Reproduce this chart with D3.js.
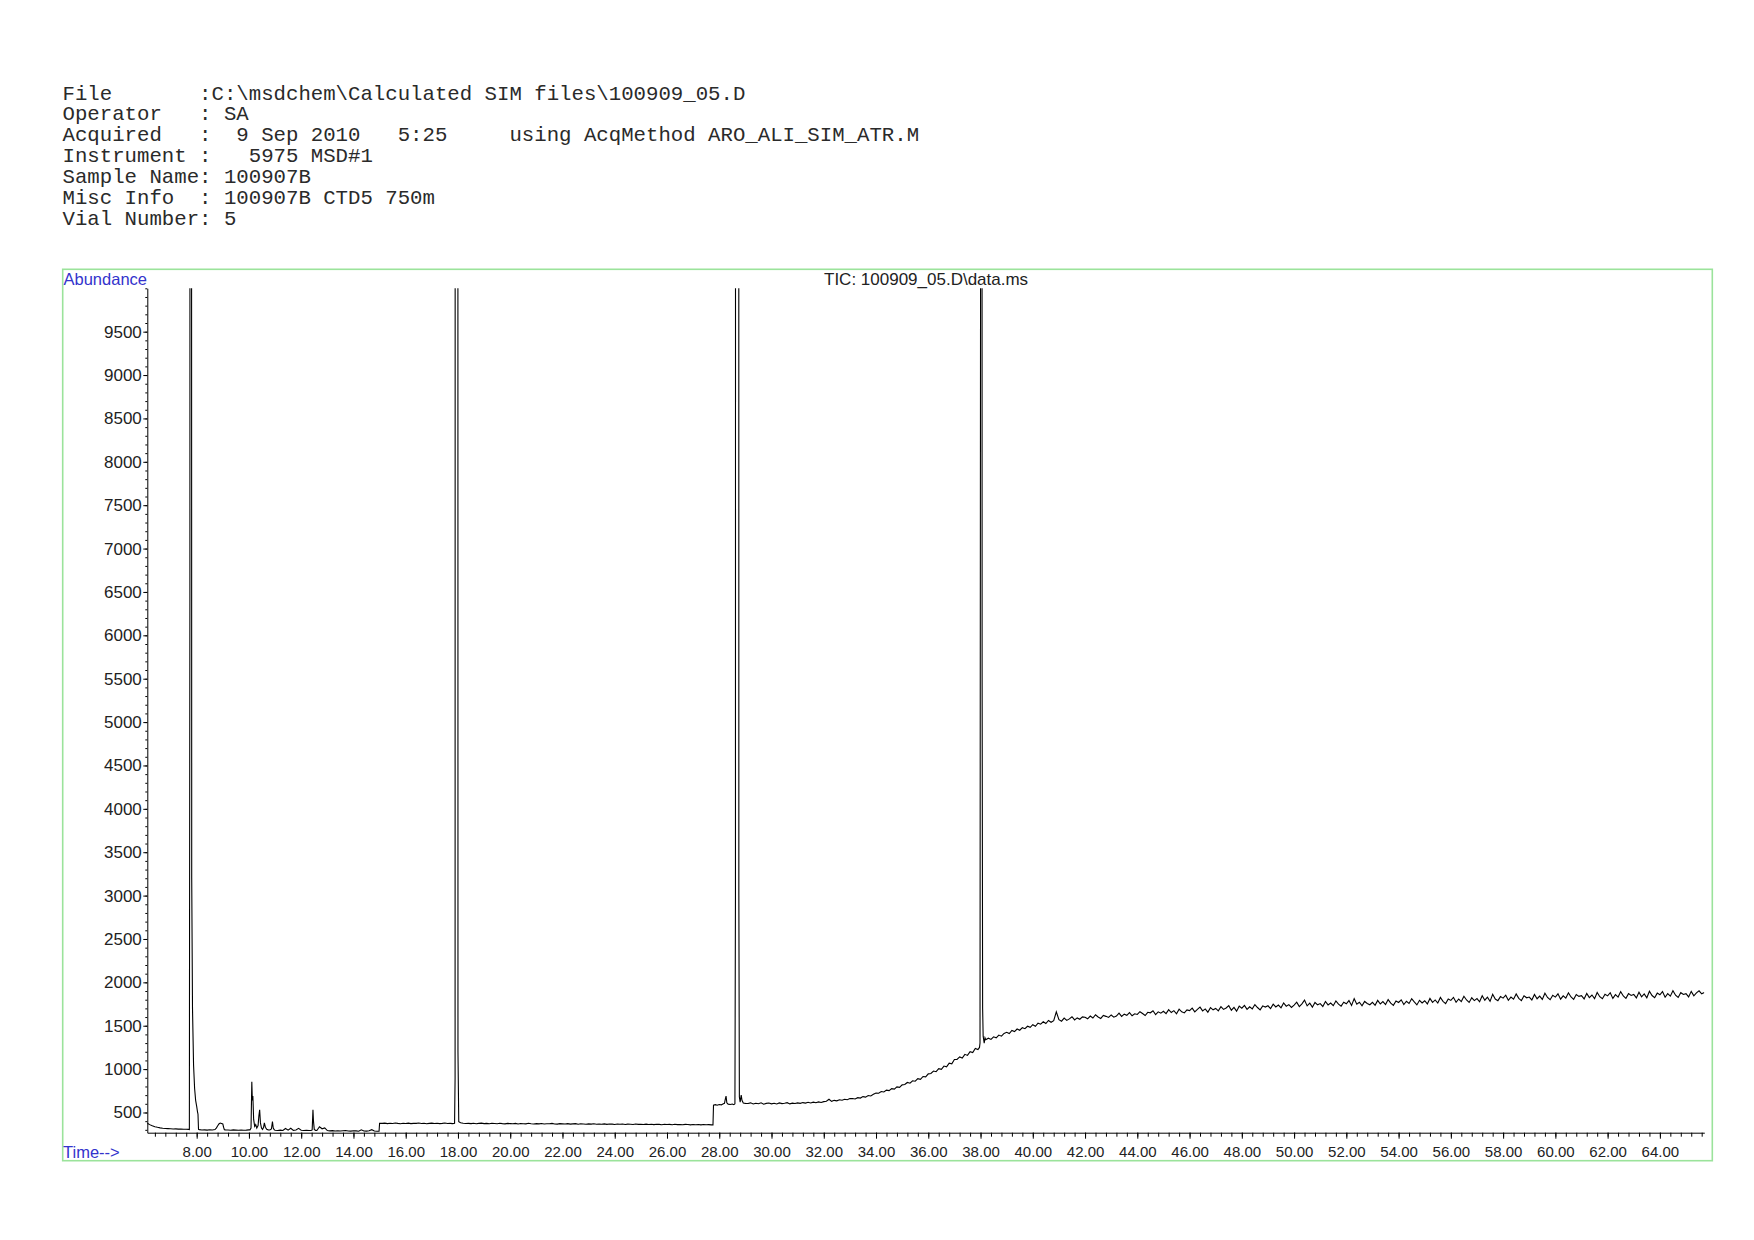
<!DOCTYPE html>
<html>
<head>
<meta charset="utf-8">
<script src="https://cdn.jsdelivr.net/npm/d3@7"></script>
<style>
  body { margin: 0; background: #fff; }
  svg { display: block; }
  .hdr { font-family: "Liberation Mono", "Courier New", monospace; font-size: 20.7px; fill: #2a2a2a; white-space: pre; }
  .axis text { font-family: "Liberation Sans", Arial, sans-serif; fill: #222; }
  .axis path, .axis line { stroke: #000; }
  .blue { font-family: "Liberation Sans", Arial, sans-serif; font-size: 16.5px; fill: #3333cc; }
  .title { font-family: "Liberation Sans", Arial, sans-serif; font-size: 17px; fill: #222; }
</style>
</head>
<body>
<svg id="chart" width="1754" height="1240"></svg>
<script>
// Header block
const headerLines = [
  "File       :C:\\msdchem\\Calculated SIM files\\100909_05.D",
  "Operator   : SA",
  "Acquired   :  9 Sep 2010   5:25     using AcqMethod ARO_ALI_SIM_ATR.M",
  "Instrument :   5975 MSD#1",
  "Sample Name: 100907B",
  "Misc Info  : 100907B CTD5 750m",
  "Vial Number: 5"
];
const traceTitle = "TIC: 100909_05.D\\data.ms";

// Axis labels
const timeLabels = [8, 10, 12, 14, 16, 18, 20, 22, 24, 26, 28, 30, 32, 34, 36, 38, 40, 42, 44, 46, 48, 50, 52, 54, 56, 58, 60, 62, 64];
const abundanceLabels = [500, 1000, 1500, 2000, 2500, 3000, 3500, 4000, 4500, 5000, 5500, 6000, 6500, 7000, 7500, 8000, 8500, 9000, 9500];

// TIC trace: regular scans (start time + values every 0.1 min) and peak detail [time, abundance]
const scanStep = 0.1;
const base1 = [378, 360, 347, 336, 329, 323, 319, 316, 314, 312, 310, 311, 308, 309, 306, 307, 305];
const peak8 = [[7.72, 304], [7.74, 6400], [7.76, 48000], [7.79, 30000], [7.81, 3200], [7.84, 1700], [7.88, 1050],
  [7.92, 780], [7.96, 640], [8.00, 570], [8.03, 510], [8.05, 480], [8.07, 305]];
const base2 = [302, 298, 300, 297, 301, 299, 303];
const bump9 = [[8.75, 320], [8.8, 345], [8.85, 368], [8.9, 378], [8.95, 374], [9.0, 368], [9.03, 330], [9.06, 302]];
const base3 = [300, 298, 296, 299, 297, 295, 298, 296, 297, 300];
const peaks10 = [[10.04, 300], [10.08, 320], [10.11, 855], [10.13, 640], [10.15, 690], [10.18, 420], [10.22, 340],
  [10.26, 360], [10.30, 320], [10.35, 350], [10.38, 460], [10.41, 530], [10.44, 380], [10.48, 320], [10.52, 305],
  [10.56, 330], [10.59, 380], [10.63, 330], [10.68, 305], [10.74, 300], [10.8, 298], [10.86, 310], [10.9, 395],
  [10.93, 320], [10.97, 300]];
const base4 = [296, 293, 297, 292, 316, 296, 318, 294, 299, 317, 296, 292, 295, 293];
const peak12 = [[12.38, 292], [12.42, 300], [12.45, 530], [12.47, 400], [12.5, 305], [12.55, 294]];
const base5 = [292, 335, 312, 322, 292, 288, 291, 287, 290, 286, 289, 292, 287, 285, 290, 288, 284, 300, 287, 285,
  289, 302, 286, 284];
const step15 = [[14.98, 284], [15.0, 375]];
const base6 = [374, 377, 372, 376, 373, 378, 374, 371, 376, 373, 377, 372, 375, 374, 378, 373, 376, 371, 375, 377,
  373, 376, 372, 374, 378, 373, 375, 372];
const peak18 = [[17.87, 376], [17.89, 900], [17.9, 40000], [17.945, 120000], [17.99, 40000], [18.0, 1200], [18.03, 395]];
const base7 = [
  381, 376, 373, 375, 372, 376, 371, 374, 377, 372,
  374, 370, 375, 373, 371, 376, 372, 369, 374, 372,
  370, 374, 368, 373, 371, 369, 375, 370, 368, 372,
  369, 373, 367, 371, 370, 374, 368, 366, 371, 369,
  367, 372, 366, 369, 371, 365, 370, 368, 364, 369,
  366, 370, 364, 368, 365, 369, 363, 367, 366, 362,
  367, 364, 368, 362, 366, 364, 361, 367, 363, 365,
  361, 366, 362, 364, 360, 365, 363, 359, 364, 361,
  363, 359, 364, 360, 362, 358, 363, 361, 357, 362,
  359, 362, 357, 361, 358, 360, 357];
const peak28 = [[27.76, 357], [27.78, 585], [27.85, 590], [27.92, 583], [28.0, 592], [28.08, 588], [28.14, 598],
  [28.2, 605], [28.23, 650], [28.26, 690], [28.29, 612], [28.34, 596], [28.42, 592], [28.5, 598], [28.56, 590],
  [28.6, 600], [28.62, 3000], [28.64, 80000], [28.7, 150000], [28.73, 80000], [28.75, 3000], [28.77, 680],
  [28.8, 620], [28.84, 700], [28.87, 640], [28.92, 610], [29.0, 605]];
const base8 = [
  603, 611, 598, 607, 601, 612, 596, 605, 609, 600,
  606, 598, 610, 602, 607, 613, 599, 608, 604, 611,
  605, 614, 608, 617, 610, 619, 612, 622, 616, 625,
  630, 652, 628, 640, 634, 646, 641, 652, 647, 660,
  662, 656, 671, 666, 683, 677, 695, 690, 710, 725,
  722, 741, 736, 758, 752, 775, 770, 795, 790, 818,
  822, 846, 838, 866, 860, 890, 882, 915, 910, 945,
  950, 978, 970, 1005, 998, 1035, 1026, 1068, 1060, 1110,
  1112, 1140, 1128, 1170, 1158, 1200, 1190, 1238, 1225];
const peak38 = [[37.96, 1250], [37.98, 1300], [38.0, 9900], [38.02, 60000], [38.04, 60000], [38.06, 5600],
  [38.08, 1700], [38.1, 1380], [38.14, 1300], [38.17, 1360]];
const base9 = [1338, 1356, 1342, 1372, 1360, 1392, 1380, 1412, 1424, 1410, 1445, 1432, 1462, 1448, 1478, 1466, 1494, 1482];
const base10 = [
  1512, 1494, 1530, 1518, 1546, 1525, 1561, 1540, 1558, 1660,
  1570, 1552, 1588, 1561, 1579, 1604, 1567, 1590, 1575, 1602,
  1598, 1580, 1612, 1589, 1627, 1601, 1584, 1619, 1608, 1596,
  1624, 1598, 1611, 1645, 1607, 1633, 1620, 1652, 1615, 1638,
  1630, 1662, 1641, 1618, 1655, 1649, 1672, 1628, 1660, 1645,
  1667, 1640, 1685, 1652, 1674, 1638, 1691, 1660, 1648, 1682,
  1675, 1703, 1660, 1688, 1714, 1671, 1694, 1656, 1708, 1683,
  1699, 1672, 1720, 1688, 1705, 1731, 1679, 1712, 1668, 1726,
  1702, 1735, 1688, 1718, 1694, 1744, 1710, 1683, 1729, 1715,
  1730, 1698, 1749, 1716, 1738, 1707, 1762, 1725, 1743, 1711,
  1738, 1771, 1720, 1752, 1795, 1729, 1760, 1714, 1768, 1741,
  1755, 1722, 1779, 1740, 1762, 1731, 1786, 1748, 1726, 1770,
  1753, 1790, 1734, 1812, 1748, 1771, 1729, 1780, 1757, 1742,
  1769, 1736, 1792, 1751, 1778, 1744, 1801, 1760, 1735, 1785,
  1768, 1799, 1745, 1782, 1757, 1811, 1774, 1740, 1793, 1762,
  1788, 1752, 1815, 1770, 1797, 1762, 1826, 1781, 1755, 1809,
  1792, 1827, 1770, 1808, 1779, 1840, 1797, 1768, 1822, 1790,
  1813, 1776, 1845, 1794, 1829, 1781, 1862, 1808, 1789, 1836,
  1818, 1852, 1793, 1830, 1806, 1866, 1815, 1790, 1845, 1822,
  1831, 1797, 1860, 1811, 1842, 1803, 1874, 1826, 1800, 1851,
  1830, 1868, 1806, 1845, 1819, 1879, 1832, 1804, 1859, 1838,
  1846, 1809, 1872, 1824, 1854, 1812, 1884, 1835, 1811, 1863,
  1844, 1880, 1815, 1858, 1830, 1893, 1843, 1816, 1870, 1849,
  1860, 1821, 1887, 1834, 1866, 1822, 1898, 1848, 1823, 1876,
  1857, 1894, 1828, 1870, 1841, 1903, 1852, 1826, 1881, 1860,
  1870, 1832, 1896, 1845, 1878, 1902, 1868, 1882];

function scans(start, vals) {
  return vals.map((v, i) => [+(start + i * scanStep).toFixed(2), v]);
}

const trace = [].concat(
  scans(6.1, base1), peak8, scans(8.1, base2), bump9, scans(9.1, base3), peaks10,
  scans(11.0, base4), peak12, scans(12.6, base5), step15, scans(15.1, base6), peak18,
  scans(18.1, base7), peak28, scans(29.1, base8), peak38, scans(38.2, base9), scans(40.0, base10)
).sort((a, b) => a[0] - b[0]);

const svg = d3.select("#chart");

// header text
svg.selectAll("text.hdr")
  .data(headerLines)
  .enter()
  .append("text")
  .attr("class", "hdr")
  .attr("x", 62.5)
  .attr("y", (d, i) => 99.5 + i * 20.9)
  .text(d => d);

// plot frame
svg.append("rect")
  .attr("x", 62.7).attr("y", 269.3)
  .attr("width", 1649.6).attr("height", 891.4)
  .attr("fill", "none")
  .attr("stroke", "#9be39b")
  .attr("stroke-width", 1.6);

// scales
const x = d3.scaleLinear().domain([6.11, 65.70]).range([147.3, 1704.3]);
const y = d3.scaleLinear().domain([267, 10000]).range([1132.7, 288.3]);

// x axis: minor ticks then labelled majors
svg.append("g")
  .attr("class", "axis")
  .attr("transform", "translate(0,1132.7)")
  .call(d3.axisBottom(x).tickValues(d3.range(6.4, 65.7, 0.4)).tickSize(4).tickSizeOuter(0).tickFormat(""));

svg.append("g")
  .attr("class", "axis")
  .attr("transform", "translate(0,1132.7)")
  .call(d3.axisBottom(x).tickValues(timeLabels).tickSize(6).tickSizeOuter(0).tickPadding(8).tickFormat(d3.format(".2f")))
  .call(g => g.selectAll("text").attr("font-size", 15))
  .call(g => g.select(".domain").remove());

// y axis
svg.append("g")
  .attr("class", "axis")
  .attr("transform", "translate(147.3,0)")
  .call(d3.axisLeft(y).tickValues(d3.range(300, 10001, 100)).tickSize(2).tickSizeOuter(0).tickFormat(""));

svg.append("g")
  .attr("class", "axis")
  .attr("transform", "translate(147.3,0)")
  .call(d3.axisLeft(y).tickValues(abundanceLabels).tickSize(4).tickSizeOuter(0).tickPadding(1.5).tickFormat(d3.format("d")))
  .call(g => g.selectAll("text").attr("font-size", 17))
  .call(g => g.select(".domain").remove());

// labels
svg.append("text").attr("class", "blue").attr("x", 63.5).attr("y", 284.5).text("Abundance");
svg.append("text").attr("class", "blue").attr("x", 63).attr("y", 1158).text("Time-->");
svg.append("text").attr("class", "title").attr("x", 824).attr("y", 285).text(traceTitle);

// trace, clipped to the axis box
svg.append("clipPath").attr("id", "plotClip")
  .append("rect")
  .attr("x", x.range()[0]).attr("y", y.range()[1])
  .attr("width", x.range()[1] - x.range()[0])
  .attr("height", y.range()[0] - y.range()[1]);

svg.append("path")
  .datum(trace)
  .attr("clip-path", "url(#plotClip)")
  .attr("fill", "none")
  .attr("stroke", "#000")
  .attr("stroke-width", 1.1)
  .attr("d", d3.line().x(d => x(d[0])).y(d => y(d[1])));
</script>
</body>
</html>
